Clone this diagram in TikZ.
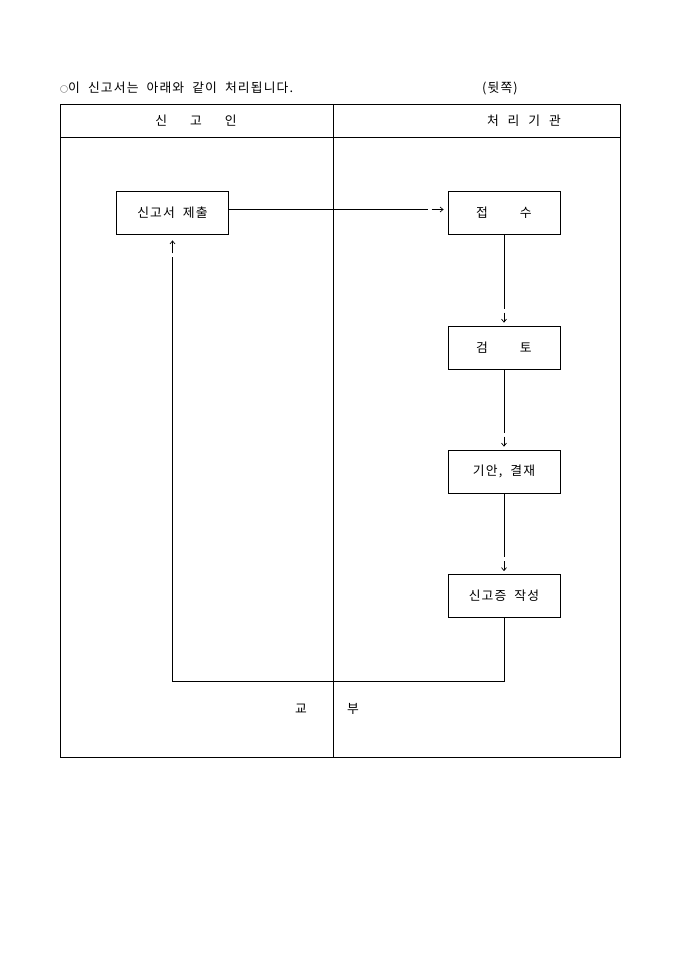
\documentclass[tikz,border=0pt]{standalone}
\usepackage{fontspec}
\setmainfont{Noto Sans CJK KR}[LetterSpace=9,WordSpace=2]
\usetikzlibrary{arrows.meta,calc}
\begin{document}
\begin{tikzpicture}[x=1pt,y=-1pt,
  every node/.style={font=\fontsize{12.8}{14}\selectfont, inner sep=0pt},
  procbox/.style={draw, line width=0.8pt, minimum width=112pt, minimum height=43pt},
  frame/.style={line width=0.8pt},
  conn/.style={line width=0.7pt},
  tipline/.style={line width=0.7pt, -{Straight Barb[length=3pt,width=5pt]}}]
\useasboundingbox (0,0) rectangle (680,962);
% header text
\node[anchor=west] (title) at (60,88) {{\fontsize{8}{8}\selectfont ○}이 신고서는 아래와 같이 처리됩니다.};
\node (back) at (500,88) {(뒷쪽)};
% table
\draw[frame] (60,104) rectangle (620,757);
\draw[frame] (60,137) -- (620,137);
\draw[frame] (333,104) -- (333,757);
\node (h1) at (196,121) {신\hspace{1.8em}고\hspace{1.8em}인};
\node (h2) at (524,121) {처\hspace{0.7em}리\hspace{0.7em}기\hspace{0.7em}관};
% boxes
\node[procbox] (submit) at (172.5,212.5) {신고서 제출};
\node[procbox] (recv) at (504,212.5) {접\hspace{2.5em}수};
\node[procbox] (review) at (504,347.5) {검\hspace{2.5em}토};
\node[procbox] (draft) at (504,471.5) {기안, 결재};
\node[procbox] (issue) at (504,596) {신고증 작성};
% connectors
\draw[conn] ($(submit.east)+(0,-3)$) -- ($(recv.west)+(-20,-3)$);
\draw[tipline] ($(recv.west)+(-16,-3)$) -- ($(recv.west)+(-4,-3)$);
\draw[conn] (recv.south) -- ($(review.north)+(0,-17)$);
\draw[tipline] ($(review.north)+(0,-13)$) -- ($(review.north)+(0,-3)$);
\draw[conn] (review.south) -- ($(draft.north)+(0,-17)$);
\draw[tipline] ($(draft.north)+(0,-13)$) -- ($(draft.north)+(0,-3)$);
\draw[conn] (draft.south) -- ($(issue.north)+(0,-17)$);
\draw[tipline] ($(issue.north)+(0,-13)$) -- ($(issue.north)+(0,-3)$);
\coordinate (c1) at (issue.south |- 0,681);
\coordinate (c2) at (submit.south |- 0,681);
\draw[conn] (issue.south) -- (c1) -- (c2) -- ($(submit.south)+(0,23)$);
\draw[tipline] ($(submit.south)+(0,19)$) -- ($(submit.south)+(0,6)$);
% label
\node (give1) at (301,709) {교};
\node (give2) at (353,709) {부};
\end{tikzpicture}
\end{document}
